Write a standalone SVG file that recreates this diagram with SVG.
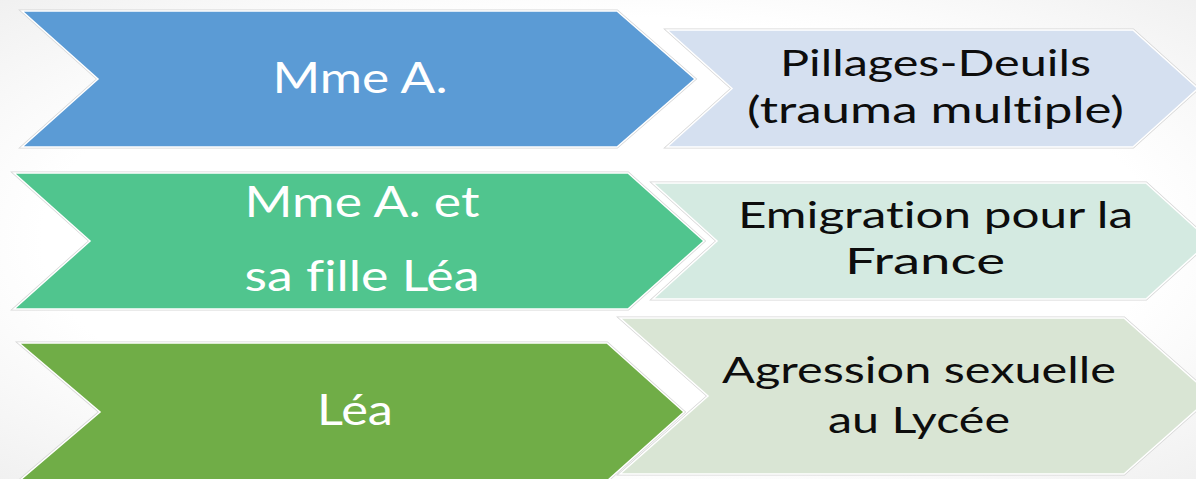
<svg xmlns="http://www.w3.org/2000/svg" width="1196" height="479" viewBox="0 0 1196 479">
<defs>
<radialGradient id="bg" cx="50%" cy="50%" r="75%">
<stop offset="0.62" stop-color="#ffffff"/>
<stop offset="1" stop-color="#eeeeee"/>
</radialGradient>
<style>
.sh{fill:none;stroke:#d6d6d6;stroke-width:3;stroke-linejoin:miter}
.sp{stroke:#ffffff;stroke-width:1.5;stroke-linejoin:miter}
.wt{font-family:Lato,"Open Sans","Liberation Sans",sans-serif;font-size:42px;fill:#ffffff;text-anchor:middle;font-variant-ligatures:none}
.bk{font-family:Lato,"Open Sans","Liberation Sans",sans-serif;font-size:37px;fill:#0d0d0d;text-anchor:middle;font-variant-ligatures:none}
.c1{fill:#5b9bd5}.c1l{fill:#d5e0f0}
.c2{fill:#50c58e}.c2l{fill:#d4eae1}
.c3{fill:#70ad47}.c3l{fill:#d9e5d4}
</style>
</defs>
<rect width="1196" height="479" fill="url(#bg)"/>
<g id="connectors"></g>

<g id="n1">
<polygon class="sh" points="22,11 617,11 695,79 617,147 22,147 98,79"/>
<polygon class="c1 sp" points="22,11 617,11 695,79 617,147 22,147 98,79"/>
<text class="wt" x="360" y="93" textLength="175" lengthAdjust="spacingAndGlyphs">Mme A.</text>
</g>
<g id="n1b">
<polygon class="sh" points="667,30 1133,30 1198,88.5 1133,147 667,147 732,88.5"/>
<polygon class="c1l sp" points="667,30 1133,30 1198,88.5 1133,147 667,147 732,88.5"/>
<text class="bk" x="935.5" y="76" textLength="311" lengthAdjust="spacingAndGlyphs">Pillages-Deuils</text>
<text class="bk" x="935.5" y="123" textLength="377" lengthAdjust="spacingAndGlyphs">(trauma multiple)</text>
</g>

<g id="n2">
<polygon class="sh" points="14,173 628,173 704,241 628,309 14,309 90,241"/>
<polygon class="c2 sp" points="14,173 628,173 704,241 628,309 14,309 90,241"/>
<text class="wt" x="362" y="217" textLength="235" lengthAdjust="spacingAndGlyphs">Mme A. et</text>
<text class="wt" x="362" y="291" textLength="235" lengthAdjust="spacingAndGlyphs">sa fille Léa</text>
</g>
<g id="n2b">
<polygon class="sh" points="653,183 1146,183 1210,241 1146,299 653,299 717,241"/>
<polygon class="c2l sp" points="653,183 1146,183 1210,241 1146,299 653,299 717,241"/>
<text class="bk" x="935.5" y="228" textLength="395" lengthAdjust="spacingAndGlyphs">Emigration pour la</text>
<text class="bk" x="925" y="274" textLength="160" lengthAdjust="spacingAndGlyphs">France</text>
</g>

<g id="n3">
<polygon class="sh" points="19,343 607,343 684,412 607,481 19,481 100,412"/>
<polygon class="c3 sp" points="19,343 607,343 684,412 607,481 19,481 100,412"/>
<text class="wt" x="355" y="425" textLength="76" lengthAdjust="spacingAndGlyphs">Léa</text>
</g>
<g id="n3b">
<polygon class="sh" points="620,318 1124,318 1212,396 1124,474 620,474 708,396"/>
<polygon class="c3l sp" points="620,318 1124,318 1212,396 1124,474 620,474 708,396"/>
<text class="bk" x="919" y="383" textLength="394" lengthAdjust="spacingAndGlyphs">Agression sexuelle</text>
<text class="bk" x="919" y="433" textLength="182" lengthAdjust="spacingAndGlyphs">au Lycée</text>
</g>
</svg>
